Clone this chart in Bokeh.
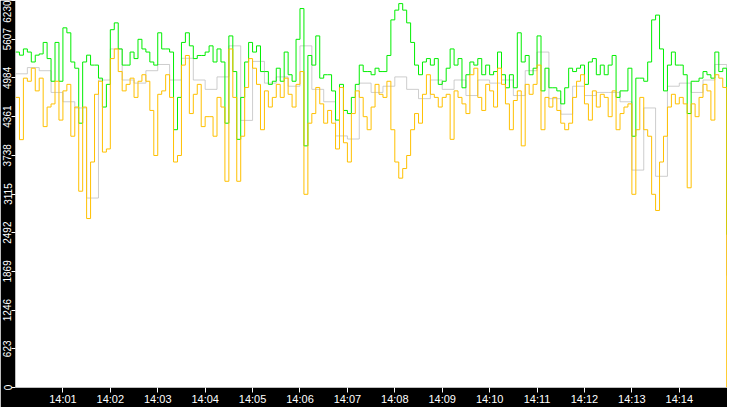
from bokeh.plotting import figure
from bokeh.models import FixedTicker, Range1d
from bokeh.embed import file_html
from bokeh.resources import INLINE

# sample times, seconds after 14:00:00
seconds = list(range(0, 901, 5))
gray_seconds = list(range(0, 901, 15))

green = [5400, 5350, 5450, 5400, 5240, 5350, 5370, 5555, 5295, 4930, 5555, 4930, 5790, 5710, 5240, 5140, 4255, 5240, 5350, 5190, 5190, 4980, 4515,
         4880, 5760, 5870, 5450, 5190, 5190, 5400, 5295, 5605, 5450, 5400, 5240, 5190, 5710, 5450, 5450, 5400, 4150, 4670, 5555, 5710, 5500, 5295,
         5345, 5345, 5400, 5500, 5240, 5450, 5240, 4255, 5660, 5086, 3995, 4670, 5240, 5555, 5400, 5500, 5086, 5086, 4880, 4930, 5140, 4930,
         5400, 5035, 4930, 5605, 6100, 3890, 5345, 5190, 5660, 4980, 5035, 5035, 4774, 4305, 4880, 4460, 4410, 4670, 4880, 5190, 5086, 5086, 5035,
         5140, 5086, 5086, 5345, 5918, 6075, 6180, 6075, 5870, 5555, 5190, 5035, 5240, 5295, 5190, 5295, 4880, 4930, 5140, 5450, 5190, 5295,
         4825, 5035, 5240, 5190, 5295, 5035, 5190, 5035, 5086, 5400, 5035, 4825, 5035, 4825, 5710, 5240, 5345, 5035, 5140, 5660, 4775, 5140, 4825,
         4825, 4775, 4566, 4825, 5140, 5086, 5140, 5190, 4880, 5240, 5295, 5035, 5190, 5035, 5190, 5345, 4670, 4775, 4775, 5140, 4045, 4980,
         4980, 4930, 5240, 5918, 5995, 5450, 4775, 5190, 5400, 5190, 5190, 5035, 4410, 4930, 4930, 4980, 5086, 5035, 4980, 5400, 5086, 5140, 2460]

orange = [4670, 3990, 4980, 4930, 5140, 4775, 4980, 4200, 4515, 4565, 4930, 4305, 4775, 4880, 4045, 4515, 3160, 4515, 2720, 3630, 4720, 4930, 3790,
          3840, 5295, 5450, 5086, 4775, 4880, 4980, 4670, 4930, 5035, 4930, 4460, 3735, 4720, 4775, 5035, 4670, 3630, 3735, 5190, 5345, 4410, 4720,
          4880, 4200, 4360, 4360, 4045, 4670, 4515, 3320, 5450, 4670, 3320, 4045, 4830, 5295, 5140, 4880, 4150, 4775, 4515, 4670, 4880, 4670,
          4980, 4720, 4515, 4880, 5086, 3110, 4255, 4410, 4830, 4566, 4255, 4460, 4255, 3840, 4830, 3940, 3630, 4410, 4775, 4670, 4360, 4150, 4515,
          4880, 4720, 4670, 4930, 4150, 3630, 3370, 3525, 3735, 4150, 4410, 4255, 4720, 5035, 4720, 4670, 4515, 4670, 4720, 3995, 4775, 4670,
          4566, 4410, 5035, 5140, 4670, 4460, 4880, 4775, 4515, 5140, 4880, 4566, 4150, 4620, 4775, 3890, 4880, 4720, 4880, 5190, 4150, 4670, 4515,
          4670, 4460, 4255, 4150, 4255, 4670, 4930, 5035, 4566, 4305, 4775, 4515, 4720, 4670, 4360, 4775, 4150, 4410, 4515, 4566, 3110, 4150,
          4670, 4150, 4045, 3110, 2850, 3630, 4045, 4515, 4720, 4566, 4670, 4566, 3215, 4566, 4360, 4670, 4880, 4775, 4305, 5035, 4980, 4830, 0]

gray = [5050, 5150, 5100, 4750, 4600, 4500, 3050, 4950, 5450, 4950,
        4900, 5100, 5200, 4950, 5300, 4950, 4800, 5000, 5500, 4300,
        5250, 4900, 5000, 4850, 5500, 4800, 4600, 4050, 4000, 4900,
        4750, 4850, 5000, 4800, 4650, 4950, 4800, 4950, 4700, 4950,
        4900, 4950, 4700, 5100, 5400, 4650, 4400, 4850, 4700, 4750,
        4750, 4600, 3500, 4500, 3400, 4850, 4900, 4750, 4950, 5200, 1800]

x_tick_seconds = [60, 120, 180, 240, 300, 360, 420, 480, 540, 600, 660, 720, 780, 840]
x_tick_labels = ["14:01", "14:02", "14:03", "14:04", "14:05", "14:06", "14:07",
                 "14:08", "14:09", "14:10", "14:11", "14:12", "14:13", "14:14"]
y_tick_values = [0, 623, 1246, 1869, 2492, 3115, 3738, 4361, 4984, 5607, 6230]
y_tick_labels = ["0", "623", "1246", "1869", "2492", "3115", "3738", "4361", "4984", "5607", "6230"]

p = figure(width=727, height=407, output_backend="svg", toolbar_location=None,
           x_range=Range1d(0, 901), y_range=Range1d(0, 6230),
           min_border_left=15, min_border_right=0, min_border_top=0, min_border_bottom=16)
p.border_fill_color = "black"
p.background_fill_color = "white"
p.outline_line_color = None
p.grid.visible = False

xa = p.xaxis[0]
ya = p.yaxis[0]
for ax in (xa, ya):
    ax.axis_line_color = None
    ax.major_tick_line_color = "white"
    ax.major_tick_in = 0
    ax.minor_tick_line_color = None
    ax.major_label_text_color = "white"
    ax.major_label_standoff = 0
    ax.major_label_text_font = "Liberation Sans"

xa.ticker = FixedTicker(ticks=x_tick_seconds)
xa.major_label_overrides = {s: l for s, l in zip(x_tick_seconds, x_tick_labels)}
xa.major_tick_out = 5
xa.major_label_text_font_size = "11px"

ya.ticker = FixedTicker(ticks=y_tick_values)
ya.major_label_overrides = {v: l for v, l in zip(y_tick_values, y_tick_labels)}
ya.major_tick_out = 4
ya.major_label_orientation = "vertical"
ya.major_label_text_font_size = "10px"

p.step(gray_seconds, gray, mode="after", line_color="#b8b8b8", line_width=0.7)
p.step(seconds, green, mode="after", line_color="#00ee00", line_width=1)
p.step(seconds, orange, mode="after", line_color="#ffc000", line_width=1)

open("out.html", "w").write(file_html(p, INLINE))
